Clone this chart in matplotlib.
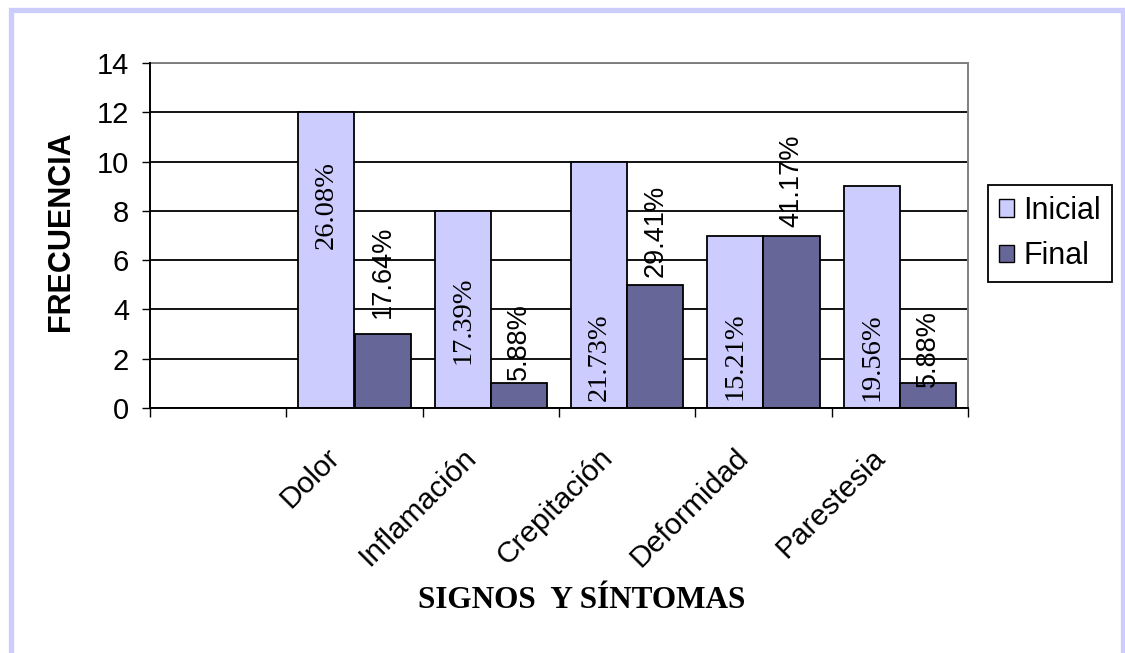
import numpy as np
import matplotlib
matplotlib.use("Agg")
import matplotlib.pyplot as plt
from matplotlib.patches import Rectangle, Patch
from matplotlib import transforms

plt.rcParams["font.family"] = ["Liberation Sans", "DejaVu Sans"]

# Frequency of signs and symptoms, before (Inicial) and after (Final)
categories = ["", "Dolor", "Inflamación", "Crepitación", "Deformidad", "Parestesia"]
inicial = [np.nan, 12, 8, 10, 7, 9]
final = [np.nan, 3, 1, 5, 7, 1]
inicial_pct = ["", "26.08%", "17.39%", "21.73%", "15.21%", "19.56%"]
final_pct = ["", "17.64%", "5.88%", "29.41%", "41.17%", "5.88%"]
yticks = [0, 2, 4, 6, 8, 10, 12, 14]

# vertical centre (in frequency units) of each rotated percentage label
inicial_label_y = [np.nan, 8.25, 3.55, 2.05, 2.1, 2.07]
final_label_y = [np.nan, 5.52, 2.68, 7.18, 9.21, 2.43]

C_INI = "#CCCCFF"
C_FIN = "#666699"

W, H = 1125, 653
fig = plt.figure(figsize=(W / 100, H / 100), dpi=100)
fig.patch.set_facecolor("white")

# lavender chart-area border
fig.patches.append(Rectangle((10.5 / W, -0.1), (1122.5 - 10.5) / W, 1.1 - 10.5 / H,
                             transform=fig.transFigure, fill=False,
                             edgecolor="#CCCCFF", linewidth=3.8, zorder=0))

ax = fig.add_axes([150 / W, 1 - 408 / H, (968 - 150) / W, (408 - 63) / H])
x = np.arange(len(categories))
w = 56 / 136.3
ax.bar(x - w / 2, inicial, w, color=C_INI, edgecolor="black", linewidth=1.3, zorder=3)
ax.bar(x + w / 2, final, w, color=C_FIN, edgecolor="black", linewidth=1.3, zorder=3)

ax.set_xlim(-0.5, len(categories) - 0.5)
ax.set_ylim(0, 14)
ax.set_yticks(yticks)
ax.yaxis.grid(True, color="black", linewidth=1.3)
ax.set_axisbelow(True)

ax.set_xticks(np.arange(len(categories) + 1) - 0.5)
ax.set_xticklabels([])
ax.tick_params(axis="x", direction="out", length=6.5, width=1.0)
ax.tick_params(axis="y", direction="out", length=6, width=1.0, labelsize=21, pad=9)

for side in ("left", "bottom"):
    ax.spines[side].set_color("black")
    ax.spines[side].set_linewidth(1.4)
    ax.spines[side].set_zorder(4)
for side in ("top", "right"):
    ax.spines[side].set_color("#808080")
    ax.spines[side].set_linewidth(1.4)

# percentage labels
for i in range(len(categories)):
    if not categories[i]:
        continue
    ax.text(x[i] - w / 2, inicial_label_y[i], inicial_pct[i], rotation=90,
            ha="center", va="center", fontsize=20.5,
            family=["Liberation Serif", "DejaVu Serif"], zorder=5)
    ax.text(x[i] + w / 2, final_label_y[i], final_pct[i], rotation=90,
            ha="center", va="center", fontsize=19.5, zorder=5)

# rotated category labels
base = transforms.blended_transform_factory(ax.transData, ax.transAxes)
shift = transforms.ScaledTranslation(-19 / 100, -45 / 100, fig.dpi_scale_trans)
for i, cat in enumerate(categories):
    if cat:
        ax.text(x[i], 0, cat, transform=base + shift, rotation=45,
                rotation_mode="anchor", ha="right", va="center", fontsize=21.5)

fig.text(61 / W, 1 - 231.5 / H, "FRECUENCIA", rotation=90, ha="center", va="center",
         fontsize=22, fontweight="bold")
fig.text(582 / W, 1 - 600 / H, "SIGNOS  Y SÍNTOMAS", ha="center", va="center",
         fontsize=22.5, fontweight="bold", family=["Liberation Serif", "DejaVu Serif"])

handles = [Patch(facecolor=C_INI, edgecolor="black", linewidth=1.0),
           Patch(facecolor=C_FIN, edgecolor="black", linewidth=1.0)]
leg = fig.legend(handles, ["Inicial", "Final"], loc="center",
                 bbox_to_anchor=(1050 / W, 1 - 233.5 / H), frameon=True, fancybox=False,
                 edgecolor="black", framealpha=1, fontsize=22, handlelength=0.5,
                 handleheight=0.5, handletextpad=0.3, labelspacing=0.5,
                 borderpad=0.35, borderaxespad=0)
leg.get_frame().set_linewidth(1.3)

fig.savefig("out.png", dpi=100, facecolor="white")
